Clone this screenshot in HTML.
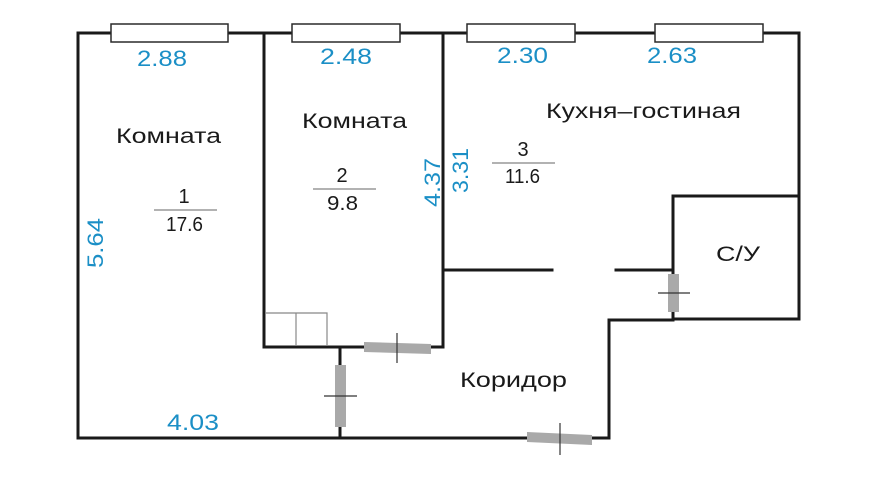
<!DOCTYPE html>
<html><head><meta charset="utf-8"><style>
html,body{margin:0;padding:0;background:#fff;}
svg{display:block;}
text{font-family:"Liberation Sans",sans-serif;}
.b{fill:#1b8fc6;font-size:22px;}
.k{fill:#1a1a1a;font-size:21px;}
.f{fill:#1a1a1a;font-size:20px;}
</style></head><body>
<svg width="880" height="499" viewBox="0 0 880 499" xmlns="http://www.w3.org/2000/svg">
<rect width="880" height="499" fill="#fff"/>
<g fill="none" stroke="#1a1a1a" stroke-width="3" stroke-linecap="square">
<path d="M78,33 H799 V319 H673 V196 H799"/>
<path d="M78,33 V438 H609 V320 H673"/>
<path d="M264,33 V347 H443 V33"/>
<path d="M443,270 H552"/>
<path d="M616,270 H673"/>
<path d="M340,347 V438"/>
</g>
<g fill="none" stroke="#888" stroke-width="1.2">
<path d="M265,313 H327 V346 M296,313 V346"/>
</g>
<g fill="#fff" stroke="#2a2a2a" stroke-width="1.5">
<rect x="111" y="24" width="117" height="18"/>
<rect x="292" y="24" width="108" height="18"/>
<rect x="467" y="24" width="108" height="18"/>
<rect x="655" y="24" width="108" height="18"/>
</g>
<g fill="#a9a9a9">
<polygon points="364,342 431,344 431,354 364,352"/>
<rect x="335" y="365" width="11" height="62"/>
<polygon points="527,432 592,435 592,445 527,442"/>
<rect x="668" y="274" width="11" height="38"/>
</g>
<g stroke="#333" stroke-width="1.2">
<line x1="397" y1="333" x2="397" y2="363"/>
<line x1="324" y1="396" x2="357" y2="396"/>
<line x1="560" y1="423" x2="560" y2="455"/>
<line x1="658" y1="293" x2="690" y2="293"/>
</g>
<g stroke="#666" stroke-width="1">
<line x1="154" y1="210" x2="217" y2="210"/>
<line x1="313" y1="189" x2="376" y2="189"/>
<line x1="492" y1="163" x2="555" y2="163"/>
</g>
<text class="b" x="137" y="66" textLength="50" lengthAdjust="spacingAndGlyphs">2.88</text>
<text class="b" x="320" y="64" textLength="52" lengthAdjust="spacingAndGlyphs">2.48</text>
<text class="b" x="497" y="63" textLength="51" lengthAdjust="spacingAndGlyphs">2.30</text>
<text class="b" x="647" y="63" textLength="50" lengthAdjust="spacingAndGlyphs">2.63</text>
<text class="b" x="167" y="430" textLength="52" lengthAdjust="spacingAndGlyphs">4.03</text>
<text class="b" transform="translate(103,268) rotate(-90)" textLength="50" lengthAdjust="spacingAndGlyphs">5.64</text>
<text class="b" transform="translate(440,207) rotate(-90)" textLength="49" lengthAdjust="spacingAndGlyphs">4.37</text>
<text class="b" transform="translate(468,193) rotate(-90)" textLength="45" lengthAdjust="spacingAndGlyphs">3.31</text>
<text class="k" x="116" y="143" textLength="105" lengthAdjust="spacingAndGlyphs">Комната</text>
<text class="k" x="302" y="128" textLength="105" lengthAdjust="spacingAndGlyphs">Комната</text>
<text class="k" x="546" y="118" textLength="195" lengthAdjust="spacingAndGlyphs">Кухня–гостиная</text>
<text class="k" x="716" y="261" textLength="44" lengthAdjust="spacingAndGlyphs">С/У</text>
<text class="k" x="460" y="387" textLength="107" lengthAdjust="spacingAndGlyphs">Коридор</text>
<text class="f" x="184" y="203" text-anchor="middle">1</text>
<text class="f" x="166" y="231" textLength="37" lengthAdjust="spacingAndGlyphs">17.6</text>
<text class="f" x="342" y="182" text-anchor="middle">2</text>
<text class="f" x="327" y="210" textLength="31" lengthAdjust="spacingAndGlyphs">9.8</text>
<text class="f" x="523" y="156" text-anchor="middle">3</text>
<text class="f" x="505" y="183" textLength="35" lengthAdjust="spacingAndGlyphs">11.6</text>
</svg>
</body></html>
